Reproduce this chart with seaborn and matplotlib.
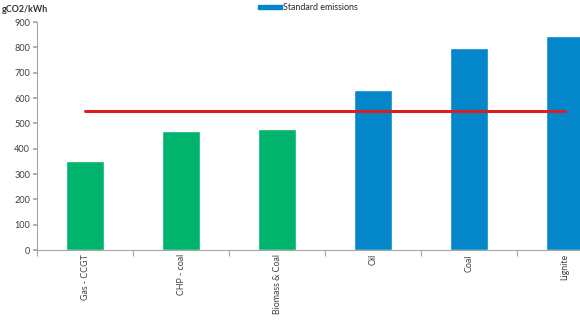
import matplotlib
matplotlib.use("Agg")
import matplotlib.pyplot as plt
import matplotlib.patches as mpatches
from matplotlib.ticker import FixedLocator
import seaborn as sns
import pandas as pd

categories = ["Gas - CCGT", "CHP - coal", "Biomass & Coal", "Oil", "Coal", "Lignite"]
emissions = [350, 470, 478, 633, 797, 845]
groups = ["low", "low", "low", "standard", "standard", "standard"]
threshold = [550, 550, 550, 550, 550, 550]
legend_label = "Standard emissions"
y_label = "gCO2/kWh"

GREEN = "#00B46E"
BLUE = "#0486CA"
RED = "#D8201F"

df = pd.DataFrame({"category": categories, "value": emissions, "group": groups,
                   "limit": threshold})

sns.set_theme(style="white")
plt.rcParams["font.family"] = ["Lato", "DejaVu Sans"]

fig = plt.figure(figsize=(5.8, 3.26), dpi=100)
ax = fig.add_axes([37 / 580, 1 - 250 / 326, 576 / 580, 228 / 326])

sns.barplot(data=df, x="category", y="value", hue="group",
            palette={"low": GREEN, "standard": BLUE}, width=0.4,
            dodge=False, legend=False, ax=ax, saturation=1)
sns.lineplot(data=df, x="category", y="limit", color=RED, linewidth=2.2,
             ax=ax, sort=False)

ax.set_xlim(-0.5, 5.5)
ax.set_ylim(0, 900)
ax.set_yticks(range(0, 901, 100))
ax.set_xlabel("")
ax.set_ylabel("")

for side in ("top", "right"):
    ax.spines[side].set_visible(False)
for side in ("left", "bottom"):
    ax.spines[side].set_color("#A6A6A6")
    ax.spines[side].set_linewidth(0.8)

ax.tick_params(axis="y", left=True, length=3, color="#A6A6A6", labelsize=6.6,
               labelcolor="#404040", pad=2)
ax.tick_params(axis="x", which="major", length=0, labelsize=6.4,
               labelcolor="#404040", labelrotation=90, pad=3)
ax.xaxis.set_minor_locator(FixedLocator([i - 0.5 for i in range(len(categories) + 1)]))
ax.tick_params(axis="x", which="minor", bottom=True, length=4, color="#A6A6A6",
               width=0.8)
for lbl in ax.get_xticklabels():
    lbl.set_verticalalignment("top")

fig.text(2 / 580, 1 - 9 / 326, y_label, fontsize=6.4, fontweight="bold",
         color="#333333", va="center", ha="left")

handle = mpatches.Patch(color=BLUE, label=legend_label)
fig.legend(handles=[handle], loc="center left", bbox_to_anchor=(258 / 580, 1 - 8 / 326),
           frameon=False, fontsize=6.4, handlelength=2.7, handleheight=0.3,
           handletextpad=0.1, borderaxespad=0, borderpad=0)

fig.savefig("out.png", dpi=100)
